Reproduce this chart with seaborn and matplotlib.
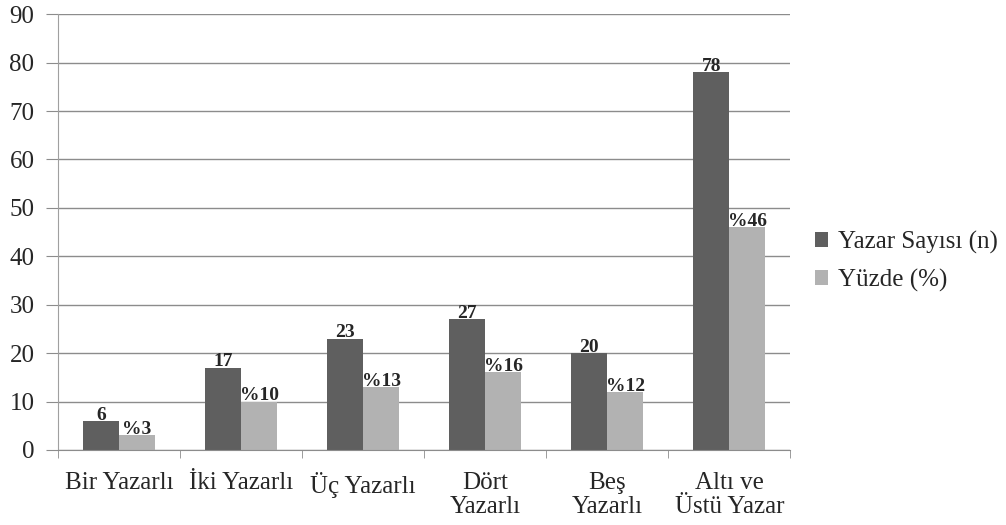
import numpy as np
import pandas as pd
import matplotlib
matplotlib.use("Agg")
import matplotlib.pyplot as plt
import seaborn as sns

categories = ["Bir Yazarlı", "İki Yazarlı", "Üç Yazarlı", "Dört\nYazarlı", "Beş\nYazarlı", "Altı ve\nÜstü Yazar"]
yazar_sayisi = [6, 17, 23, 27, 20, 78]
yuzde = [3, 10, 13, 16, 12, 46]
series_names = ["Yazar Sayısı (n)", "Yüzde (%)"]

df = pd.DataFrame({
    "kategori": categories * 2,
    "deger": yazar_sayisi + yuzde,
    "seri": [series_names[0]] * len(categories) + [series_names[1]] * len(categories),
})

sns.set_style("white")
plt.rcParams["font.family"] = ["Liberation Serif", "DejaVu Serif"]

fig = plt.figure(figsize=(10.06, 5.25), dpi=100)
ax = fig.add_axes([0.0577, 0.143, 0.728, 0.830])

colors = ["#5f5f5f", "#b2b2b2"]
sns.barplot(data=df, x="kategori", y="deger", hue="seri", palette=colors,
            width=0.59, ax=ax, saturation=1, linewidth=0)

# value labels
for container, fmt in zip(ax.containers, ["{:d}", "%{:d}"]):
    labels = [fmt.format(int(v)) for v in container.datavalues]
    ax.bar_label(container, labels=labels, fontsize=14, fontweight="bold", padding=-2)

ax.set_ylim(0, 90)
ax.set_xlim(-0.5, 5.5)
ax.set_yticks(range(0, 91, 10))
ax.yaxis.grid(True, color="#8c8c8c", linewidth=1)
ax.set_axisbelow(True)
ax.set_xlabel("")
ax.set_ylabel("")

for s in ["top", "right"]:
    ax.spines[s].set_visible(False)
ax.spines["left"].set_color("#a0a0a0")
ax.spines["bottom"].set_color("#8c8c8c")

ax.tick_params(axis="y", labelsize=18, length=9, color="#8c8c8c", left=True, pad=8)
ax.tick_params(axis="x", labelsize=18, length=0, pad=16)
for lbl in ax.get_xticklabels():
    lbl.set_linespacing(1.1)
ax.set_xticks(np.arange(-0.5, 6, 1), minor=True)
ax.tick_params(axis="x", which="minor", length=6, color="#8c8c8c", bottom=True)

leg = ax.legend(loc="center left", bbox_to_anchor=(1.027, 0.433), frameon=False,
                borderaxespad=0, borderpad=0.2,
                fontsize=18, handlelength=0.5, handleheight=0.5, handletextpad=0.4,
                labelspacing=0.6)

fig.savefig("out.png", dpi=100)
